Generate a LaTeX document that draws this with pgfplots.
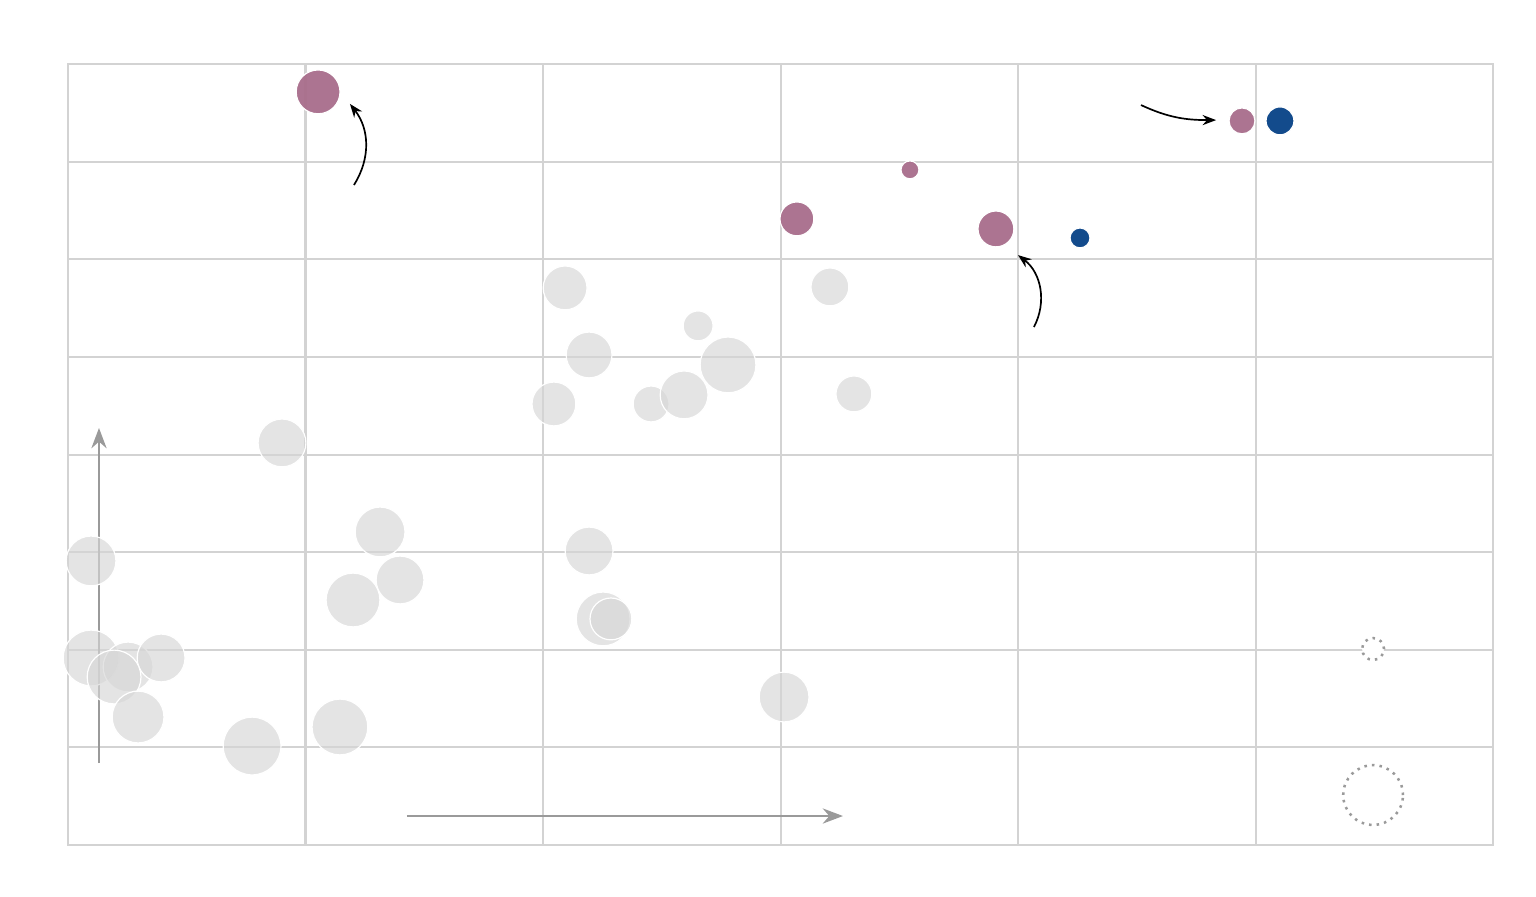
\documentclass[border=0pt]{standalone}
\usepackage{pgfplots}
\pgfplotsset{compat=1.18}
\usetikzlibrary{arrows.meta}
\definecolor{GridGray}{HTML}{D3D3D3}
\definecolor{Bubble}{HTML}{D6D6D6}
\definecolor{Plum}{HTML}{A86D8B}
\definecolor{Navy}{HTML}{134B8C}
\definecolor{ArrowGray}{HTML}{9A9A9A}

% x, y in grid units; r = bubble radius in px of the 1536 px wide image
\pgfplotstableread{
x y r
2.093 5.707 22
2.194 5.020 23
2.046 4.518 22
2.455 4.518 18
2.594 4.611 24
2.779 4.918 28
2.653 5.318 15
3.208 5.717 19
3.309 4.621 18
0.901 4.119 24
0.097 2.910 25
1.314 3.207 25
1.398 2.715 24
1.200 2.510 27
2.194 3.012 24
2.253 2.316 27
2.286 2.316 21
0.097 1.916 28
0.253 1.824 25
0.392 1.916 24
0.194 1.721 27
0.295 1.311 26
0.775 1.014 29
1.145 1.209 28
3.015 1.516 25
}\others
\pgfplotstableread{
x y r
1.053 7.715 22
3.069 6.414 17
3.545 6.916 9
3.907 6.311 18
4.943 7.418 13
}\plum
\pgfplotstableread{
x y r
5.103 7.418 14
4.261 6.219 10
}\navy
\pgfplotstableread{
x y r
5.495 2.008 11
5.495 0.512 30
}\sizekey

\pgfplotsset{
  bubble/.style={scatter, only marks, mark=*,
    scatter/use mapped color={#1},
    visualization depends on={\thisrow{r} \as \rad},
    scatter/@pre marker code/.append style={/tikz/mark size=0.2953*\rad}},
}

\begin{document}
\begin{tikzpicture}
\useasboundingbox (0,0) rectangle (16cm,9.3333cm);
\begin{axis}[at={(0.7083cm,0.53125cm)}, anchor=south west,
  scale only axis, width=14.844cm, height=8.135cm,
  xmin=0, xmax=6, ymin=0, ymax=8,
  xtick={0,...,6}, ytick={0,...,8},
  xticklabels={}, yticklabels={}, major tick length=0pt,
  grid=major, grid style={GridGray, line width=0.6pt},
  axis line style={GridGray, line width=0.6pt},
  clip=false]

\addplot[bubble={draw=white, line width=0.35pt, fill=Bubble, fill opacity=0.65}] table[x=x,y=y] {\others};
\addplot[bubble={draw=white, line width=0.35pt, fill=Plum, fill opacity=0.95}] table[x=x,y=y] {\plum};
\addplot[bubble={draw=white, line width=0.35pt, fill=Navy}] table[x=x,y=y] {\navy};
\addplot[bubble={draw=ArrowGray, line width=0.75pt, dash pattern=on 0.75pt off 1.5pt, fill=white}] table[x=x,y=y] {\sizekey};

% direction arrows
\draw[ArrowGray, line width=0.7pt, -{Stealth[length=6pt,width=4.5pt]}] (axis cs:0.1305,0.84) -- (axis cs:0.1305,4.272);
\draw[ArrowGray, line width=0.7pt, -{Stealth[length=6pt,width=4.5pt]}] (axis cs:1.427,0.297) -- (axis cs:3.263,0.297);

% annotation arrows
\draw[black, line width=0.5pt, -{Stealth[length=4pt,width=3pt]}] (axis cs:1.204,6.761) to[bend right=35] (axis cs:1.187,7.592);
\draw[black, line width=0.5pt, -{Stealth[length=4pt,width=3pt]}] (axis cs:4.067,5.306) to[bend right=40] (axis cs:4.000,6.043);
\draw[black, line width=0.5pt, -{Stealth[length=4pt,width=3pt]}] (axis cs:4.518,7.580) to[out=-25,in=180] (axis cs:4.834,7.426);
\end{axis}
\end{tikzpicture}
\end{document}
